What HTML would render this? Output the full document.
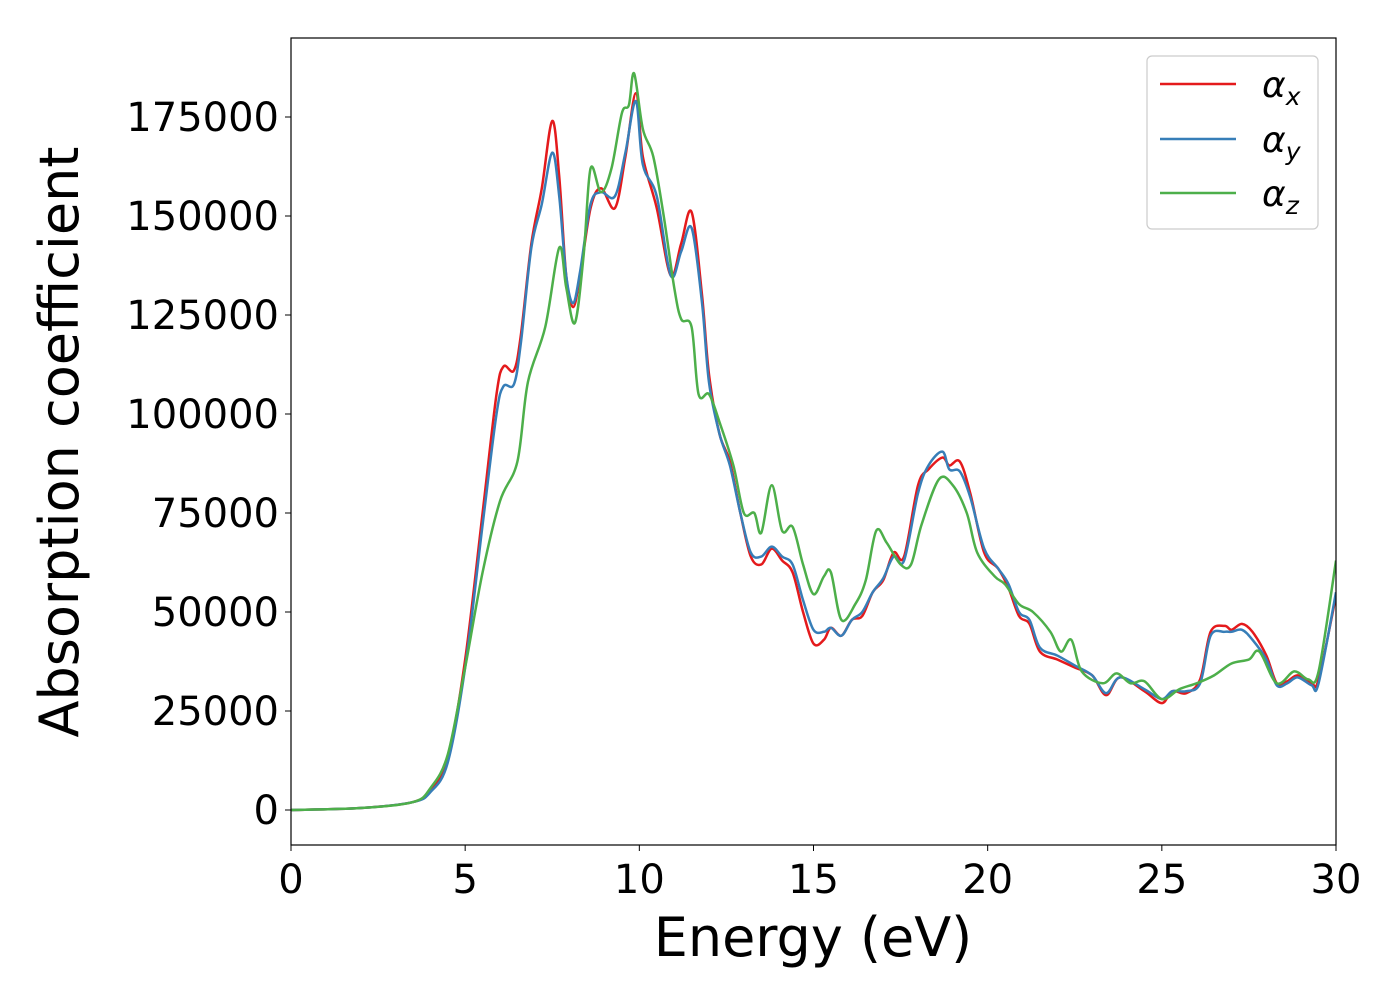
<!DOCTYPE html>
<html><head><meta charset="utf-8"><style>
body{margin:0;background:#fff;}
svg text{font-family:"DejaVu Sans","Liberation Sans",sans-serif;fill:#000;}
</style></head><body>
<svg id="chart" width="1400" height="1000" xmlns="http://www.w3.org/2000/svg">
<rect x="0" y="0" width="1400" height="1000" fill="#fff"/>
<g id="plot"></g>
<rect x="291" y="38" width="1045" height="807" fill="none" stroke="#000" stroke-width="1.2"/>
<g id="axes"></g>
<text x="813" y="956" font-size="54" text-anchor="middle">Energy (eV)</text>
<text transform="translate(78,442) rotate(-90)" font-size="54" text-anchor="middle">Absorption coefficient</text>
<g>
<rect x="1147" y="56" width="171" height="173" rx="5" fill="#fff" stroke="#ccc" stroke-width="1.2"/>
<line x1="1160" y1="84" x2="1236" y2="84" stroke="#e41a1c" stroke-width="2.5"/>
<text x="1262" y="97" font-size="36" font-style="italic">α<tspan font-size="25" dy="8">x</tspan></text>
<line x1="1160" y1="139" x2="1236" y2="139" stroke="#377eb8" stroke-width="2.5"/>
<text x="1262" y="152" font-size="36" font-style="italic">α<tspan font-size="25" dy="8">y</tspan></text>
<line x1="1160" y1="193" x2="1236" y2="193" stroke="#4daf4a" stroke-width="2.5"/>
<text x="1262" y="206" font-size="36" font-style="italic">α<tspan font-size="25" dy="8">z</tspan></text>
</g>
</svg>
<script>
const xTicks=[0,5,10,15,20,25,30];
const yTicks=[0,25000,50000,75000,100000,125000,150000,175000];
const energyX=[0,2,3.5,4,4.5,5,5.5,5.9,6.1,6.4,6.6,6.9,7.2,7.5,7.7,7.9,8.1,8.3,8.6,8.9,9.3,9.6,9.9,10.1,10.5,10.9,11.2,11.5,11.8,12,12.3,12.6,12.9,13.2,13.5,13.8,14.1,14.4,14.7,15,15.3,15.5,15.8,16.1,16.4,16.7,17,17.3,17.6,18,18.3,18.7,18.9,19.2,19.5,19.9,20.3,20.6,20.9,21.2,21.5,22,22.5,23,23.4,23.8,24.5,25,25.3,25.7,26.1,26.4,26.8,27,27.3,27.6,28,28.3,28.6,28.9,29.3,29.5,30];
const alphaX=[0,500,2000,5000,13000,38000,75000,105000,112000,111000,120000,143000,157000,174000,160000,135000,127000,135000,152000,157000,152000,165000,181000,165000,152000,135000,143000,151000,130000,110000,95000,88000,75000,64000,62000,66000,63000,60000,50000,42000,43000,46000,44000,48000,49000,55000,58000,65000,64000,82000,86000,89000,87000,88000,80000,65000,61000,56000,49000,47000,40000,38000,36000,34000,29000,33500,30000,27000,30000,29500,33000,45000,46500,45500,47000,45000,39000,32000,32500,34000,32000,33000,54000];
const alphaY=[0,500,2000,4500,12000,36000,72000,100000,107000,107500,118000,142000,153000,166000,155000,135000,128000,136000,153000,156000,155000,166000,179000,163000,155000,135000,141000,147000,128000,108000,95000,87000,75000,65000,64000,66500,64000,62000,53000,45500,45000,46000,44000,48000,50000,55000,58500,64000,63000,80000,87000,90500,86000,85500,79000,66000,61000,57000,50000,48000,41000,39000,36500,34000,29500,33500,30500,28000,30000,30000,32000,44000,45000,45000,45500,43000,38000,31500,32000,33500,31500,32000,55000];
const energyZ=[0,2,3.5,4,4.5,5,5.5,6,6.5,6.8,7.3,7.7,7.9,8.15,8.4,8.6,8.9,9.2,9.5,9.7,9.85,10.1,10.4,10.7,11,11.2,11.5,11.7,12,12.3,12.7,13,13.3,13.5,13.8,14.1,14.4,14.7,15,15.3,15.5,15.8,16.2,16.5,16.8,17.1,17.5,17.8,18.1,18.6,19,19.4,19.7,20.2,20.5,20.9,21.3,21.8,22.1,22.4,22.7,23.3,23.7,24.1,24.5,25,25.5,26,26.5,27,27.5,27.8,28.3,28.8,29.2,29.5,30];
const alphaZ=[0,500,2000,5500,14000,36000,60000,78000,88000,108000,122000,142000,132000,123000,140000,162000,156000,162000,176000,178000,186000,172000,165000,150000,132000,124000,122000,105000,105000,98000,87000,75000,75000,70000,82000,70500,71500,62000,54500,59000,60000,48000,52000,58000,70500,67500,62000,62000,72000,83500,82000,75000,65000,59000,57000,52000,50000,45000,40000,43000,35000,32000,34500,32000,32500,28000,30500,32000,34000,37000,38000,40000,32000,35000,33000,35000,63000];

const L=291,R=1336,T=38,B=845,Y0=810,Y175=117;
const sx=e=>L+(e-0)/30*(R-L);
const sy=v=>Y0-v/175000*(Y0-Y175);
const NS="http://www.w3.org/2000/svg";
function pathFor(xs,ys){
  const p=xs.map((e,i)=>[sx(e),sy(ys[i])]);
  let d="M"+p[0][0]+","+p[0][1];
  for(let i=0;i<p.length-1;i++){
    const p0=p[Math.max(0,i-1)],p1=p[i],p2=p[i+1],p3=p[Math.min(p.length-1,i+2)];
    const c1=[p1[0]+(p2[0]-p0[0])/6,p1[1]+(p2[1]-p0[1])/6];
    const c2=[p2[0]-(p3[0]-p1[0])/6,p2[1]-(p3[1]-p1[1])/6];
    d+=" C"+c1+" "+c2+" "+p2;
  }
  return d;
}
const plot=document.getElementById('plot');
const clip=document.createElementNS(NS,'clipPath');clip.id='cp';
const cr=document.createElementNS(NS,'rect');
cr.setAttribute('x',L);cr.setAttribute('y',T);cr.setAttribute('width',R-L);cr.setAttribute('height',B-T);
clip.appendChild(cr);plot.appendChild(clip);
plot.setAttribute('clip-path','url(#cp)');
function addLine(xs,ys,color,name){
  const el=document.createElementNS(NS,'path');
  el.setAttribute('d',pathFor(xs,ys));
  el.setAttribute('fill','none');el.setAttribute('stroke',color);el.setAttribute('stroke-width','2.5');
  
  
  plot.appendChild(el);
}
addLine(energyX,alphaX,'#e41a1c','series-alpha-x');
addLine(energyX,alphaY,'#377eb8','series-alpha-y');
addLine(energyZ,alphaZ,'#4daf4a','series-alpha-z');
const axes=document.getElementById('axes');
xTicks.forEach(t=>{
  const x=sx(t);
  const ln=document.createElementNS(NS,'line');
  ln.setAttribute('x1',x);ln.setAttribute('x2',x);ln.setAttribute('y1',B);ln.setAttribute('y2',B+6);
  ln.setAttribute('stroke','#000');
  
  
  axes.appendChild(ln);
  const tx=document.createElementNS(NS,'text');
  tx.setAttribute('x',x);tx.setAttribute('y',893);tx.setAttribute('font-size','40');tx.setAttribute('text-anchor','middle');
  tx.textContent=t;
  
  
  axes.appendChild(tx);
});
yTicks.forEach(t=>{
  const y=sy(t);
  const ln=document.createElementNS(NS,'line');
  ln.setAttribute('x1',L-6);ln.setAttribute('x2',L);ln.setAttribute('y1',y);ln.setAttribute('y2',y);
  ln.setAttribute('stroke','#000');
  
  
  axes.appendChild(ln);
  const tx=document.createElementNS(NS,'text');
  tx.setAttribute('x',279);tx.setAttribute('y',y+14);tx.setAttribute('font-size','40');tx.setAttribute('text-anchor','end');
  tx.textContent=t;
  
  
  axes.appendChild(tx);
});
</script>
</body></html>
